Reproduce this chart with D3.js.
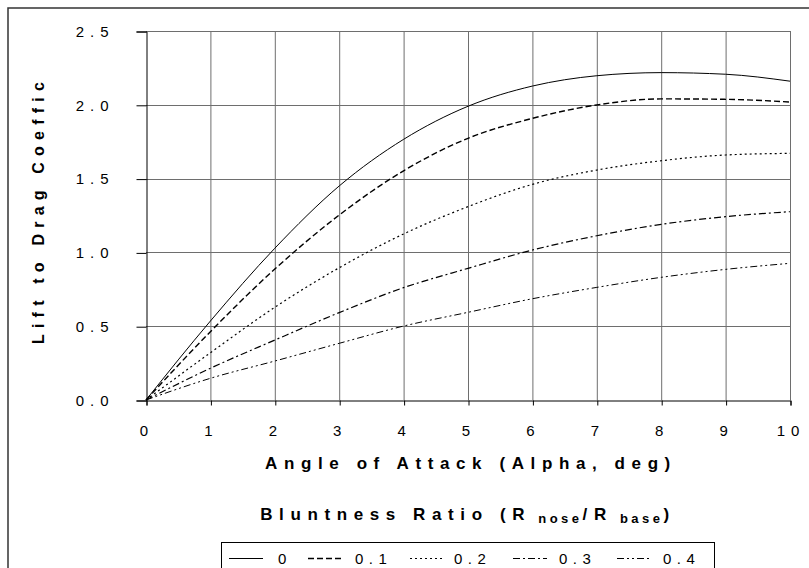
<!DOCTYPE html>
<html><head><meta charset="utf-8">
<script src="https://cdn.jsdelivr.net/npm/d3@7"></script>
<style>
body{margin:0;background:#fff;}
text{font-family:"Liberation Sans",Arial,sans-serif;fill:#000;}
</style></head>
<body><svg id="c" width="809" height="568"></svg>
<script>
const alpha = [0,1,2,3,4,5,6,7,8,9,10];
const seriesNames = ["0","0.1","0.2","0.3","0.4"];
const ld_0  = [0,0.535,1.028,1.45,1.766,1.99,2.127,2.197,2.218,2.207,2.16];
const ld_01 = [0,0.463,0.887,1.253,1.553,1.773,1.908,1.999,2.04,2.037,2.019];
const ld_02 = [0,0.32,0.628,0.896,1.125,1.31,1.461,1.558,1.621,1.66,1.671];
const ld_03 = [0,0.215,0.406,0.592,0.761,0.892,1.016,1.113,1.19,1.242,1.276];
const ld_04 = [0,0.147,0.264,0.384,0.501,0.594,0.686,0.763,0.831,0.885,0.926];
const yTicks = [0,0.5,1.0,1.5,2.0,2.5];
const xTicks = [0,1,2,3,4,5,6,7,8,9,10];
const seriesValues = [ld_0, ld_01, ld_02, ld_03, ld_04];
const dashes = [null, "6,3", "2,3", "7,3,2,3", "7,3,2,3,2,3"];
const widths = [1, 1.4, 1.2, 1.2, 1];

const svg = d3.select("#c");
const L=146, R=790, T=31, B=400;
const x = d3.scaleLinear().domain([0,10]).range([L,R]);
const y = d3.scaleLinear().domain([0,2.5]).range([B,T]);

// outer frame
svg.append("rect").attr("x",8).attr("y",8).attr("width",820).attr("height",600)
  .attr("fill","none").attr("stroke","#333").attr("stroke-width",1.5);

// gridlines
const g = svg.append("g");
g.selectAll(".vg").data(xTicks.slice(1)).join("line")
  .attr("x1",d=>x(d)+0.5).attr("x2",d=>x(d)+0.5).attr("y1",T).attr("y2",B)
  .attr("stroke","#6e6e6e").attr("stroke-width",1);
g.selectAll(".hg").data(yTicks.slice(1)).join("line")
  .attr("x1",L).attr("x2",R).attr("y1",d=>Math.round(y(d))+0.5).attr("y2",d=>Math.round(y(d))+0.5)
  .attr("stroke","#6e6e6e").attr("stroke-width",1);

// axes
const yAxis = d3.axisLeft(y).tickValues(yTicks).tickSize(10).tickPadding(20).tickFormat(d3.format(".1f"));
const yg = svg.append("g").attr("transform",`translate(${L+0.5},0.5)`).call(yAxis);
const xAxis = d3.axisBottom(x).tickValues(xTicks).tickSize(5).tickPadding(20).tickFormat(d3.format("d"));
const xg = svg.append("g").attr("transform",`translate(0.5,${Math.round(B)+0.5})`).call(xAxis);
[yg,xg].forEach(a=>{
  a.select(".domain").attr("stroke","#000");
  a.selectAll(".tick line").attr("stroke","#000");
  a.selectAll(".tick text").attr("font-size",15).attr("letter-spacing","6px")
   .attr("font-family","Liberation Sans, Arial, sans-serif");
});
yg.selectAll(".tick text").attr("dx","-2");

// lines
const line = d3.line().x((d,i)=>x(alpha[i])).y(d=>y(d)).curve(d3.curveMonotoneX);
seriesValues.forEach((vals,k)=>{
  svg.append("path").datum(vals).attr("d",line).attr("fill","none")
    .attr("stroke","#000").attr("stroke-width",widths[k])
    .attr("stroke-dasharray",dashes[k]);
});

// axis titles
svg.append("text").attr("transform","translate(44,344) rotate(-90)")
  .attr("font-size",16).attr("font-weight","bold").attr("letter-spacing","6.2px")
  .text("Lift to Drag Coeffic");
svg.append("text").attr("x",(L+R)/2+3).attr("y",469).attr("text-anchor","middle")
  .attr("font-size",17).attr("font-weight","bold").attr("letter-spacing","6.6px")
  .text("Angle of Attack (Alpha, deg)");

// legend title
const lt = svg.append("text").attr("x",468).attr("y",520).attr("text-anchor","middle")
  .attr("font-size",17).attr("font-weight","bold").attr("letter-spacing","6.6px");
lt.append("tspan").text("Bluntness Ratio (R");
lt.append("tspan").attr("font-size",13).attr("dy",3).attr("letter-spacing","3.5px").text(" nose");
lt.append("tspan").attr("dy",-3).text("/R");
lt.append("tspan").attr("font-size",13).attr("dy",3).attr("letter-spacing","3.5px").text(" base");
lt.append("tspan").attr("dy",-3).text(")");

// legend box
svg.append("rect").attr("x",221.5).attr("y",542.5).attr("width",493).attr("height",60)
  .attr("fill","#fff").attr("stroke","#000").attr("stroke-width",1);
const legX = [229, 308, 410, 513, 617];
const legTX = [278, 355, 454, 559, 663];
seriesNames.forEach((n,k)=>{
  svg.append("line").attr("x1",legX[k]).attr("x2",legX[k]+34).attr("y1",558.5).attr("y2",558.5)
    .attr("stroke","#000").attr("stroke-width",widths[k]).attr("stroke-dasharray",dashes[k]);
  svg.append("text").attr("x",legTX[k]).attr("y",564).attr("font-size",15)
    .attr("letter-spacing","5.5px").text(n);
});
</script></body></html>
